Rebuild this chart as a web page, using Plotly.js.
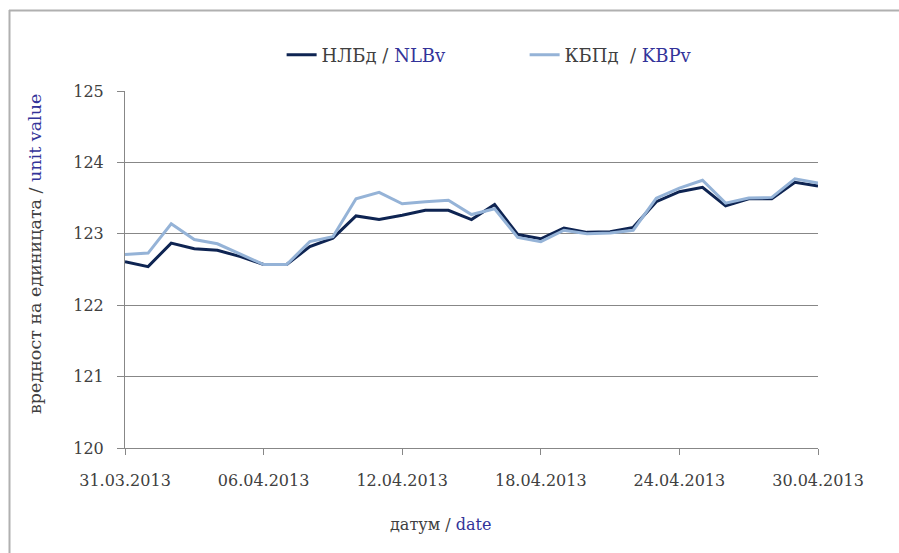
<!DOCTYPE html>
<html>
<head>
<meta charset="utf-8">
<script src="https://cdn.plot.ly/plotly-3.0.1.min.js"></script>
<style>
html,body{margin:0;padding:0;background:#fff;}
#chart{width:899px;height:553px;}
</style>
</head>
<body>
<div id="chart"></div>
<script>
const dates = ['2013-03-31','2013-04-01','2013-04-02','2013-04-03','2013-04-04','2013-04-05','2013-04-06','2013-04-07','2013-04-08','2013-04-09','2013-04-10','2013-04-11','2013-04-12','2013-04-13','2013-04-14','2013-04-15','2013-04-16','2013-04-17','2013-04-18','2013-04-19','2013-04-20','2013-04-21','2013-04-22','2013-04-23','2013-04-24','2013-04-25','2013-04-26','2013-04-27','2013-04-28','2013-04-29','2013-04-30'];
const nlbv = [122.61,122.54,122.87,122.79,122.77,122.68,122.57,122.57,122.82,122.94,123.25,123.20,123.26,123.33,123.33,123.20,123.41,122.99,122.93,123.08,123.02,123.03,123.09,123.45,123.59,123.65,123.39,123.49,123.49,123.72,123.67];
const kbpv = [122.71,122.73,123.14,122.92,122.86,122.71,122.57,122.57,122.89,122.96,123.49,123.58,123.42,123.45,123.47,123.27,123.35,122.95,122.89,123.05,123.00,123.01,123.05,123.50,123.64,123.75,123.43,123.50,123.51,123.77,123.71];
const tickDates = ['2013-03-31','2013-04-06','2013-04-12','2013-04-18','2013-04-24','2013-04-30'];
const tickLabels = ['31.03.2013','06.04.2013','12.04.2013','18.04.2013','24.04.2013','30.04.2013'];
const names = ['НЛБд / <span style="color:#333399">NLBv</span>','КБПд  / <span style="color:#333399">KBPv</span>'];

const FONT = 'DejaVu Serif';
const TXT = '#404040';

const traces = [
  {x: dates, y: nlbv, type:'scatter', mode:'lines', name:names[0], line:{color:'#0e2452', width:3}},
  {x: dates, y: kbpv, type:'scatter', mode:'lines', name:names[1], line:{color:'#95b3d7', width:3}}
];

const layout = {
  width:899, height:553,
  margin:{l:125, r:81, t:91, b:105},
  paper_bgcolor:'#fff', plot_bgcolor:'#fff',
  font:{family:FONT, size:16, color:TXT},
  showlegend:true,
  legend:{orientation:'h', x:0.226, y:(448-55)/357, xanchor:'left', yanchor:'middle', entrywidth:198, entrywidthmode:'pixels', font:{family:FONT, size:18, color:TXT}, bgcolor:'rgba(0,0,0,0)'},
  xaxis:{type:'date', range:['2013-03-31','2013-04-30'], tickvals:tickDates, ticktext:tickLabels,
    showgrid:false, zeroline:false, showline:true, linecolor:'#878787', linewidth:1,
    ticks:'outside', ticklen:6, tickcolor:'#878787', ticklabelstandoff:12,
    tickfont:{family:FONT, size:16, color:TXT}},
  yaxis:{range:[120,125], dtick:1, tick0:120, showgrid:true, gridcolor:'#878787', gridwidth:1,
    zeroline:false, showline:true, linecolor:'#878787', linewidth:1,
    ticks:'outside', ticklen:7, tickcolor:'#878787', ticklabelstandoff:10,
    tickfont:{family:FONT, size:16, color:TXT}},
  annotations:[
    {text:'датум / <span style="color:#333399">date</span>', xref:'paper', yref:'paper', x:(440-125)/693, y:(448-524)/357, xanchor:'center', yanchor:'middle', showarrow:false, font:{family:FONT, size:16, color:TXT}},
    {text:'вредност на единицата / <span style="color:#333399">unit value</span>', xref:'paper', yref:'paper', x:(35-125)/693, y:(448-254)/357, xanchor:'center', yanchor:'middle', textangle:-90, showarrow:false, font:{family:FONT, size:17.5, color:TXT}}
  ],
  shapes:[
    {type:'line', xref:'paper', yref:'paper', x0:(9.5-125)/693, x1:(9.5-125)/693, y0:(448-10)/357, y1:(448-560)/357, line:{color:'#b0b0b0', width:2}},
    {type:'line', xref:'paper', yref:'paper', x0:(9-125)/693, x1:(905-125)/693, y0:(448-10.5)/357, y1:(448-10.5)/357, line:{color:'#b0b0b0', width:2}}
  ]
};

Plotly.newPlot('chart', traces, layout, {displayModeBar:false, staticPlot:true});
</script>
</body>
</html>
